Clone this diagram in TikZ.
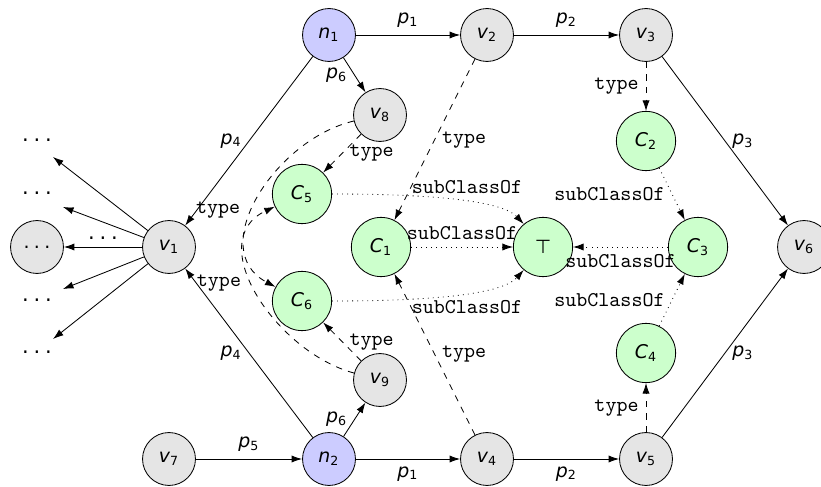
\documentclass[tikz,border=0pt]{standalone}
\usepackage{fontspec}
\setmainfont{DejaVu Sans}
\usetikzlibrary{arrows.meta}
\newcommand{\iv}[2]{\textit{#1}\textsubscript{#2}}
\newcommand{\dts}{.\hspace{0.23em}.\hspace{0.23em}.}
\begin{document}
\begin{tikzpicture}[x=0.476pt,y=0.476pt,
  base/.style={circle,draw,inner sep=0pt,font=\small},
  inst/.style={base,minimum size=25.2pt,fill=gray!20},
  nn/.style={inst,fill=blue!20},
  cls/.style={base,minimum size=28.2pt,fill=green!20},
  rel/.style={-{Latex[length=5pt,width=3.4pt]}},
  typ/.style={rel,dashed},
  sub/.style={rel,dotted},
  pl/.style={font=\small},
  tl/.style={font=\ttfamily},
  dl/.style={font=\normalsize}]
\useasboundingbox (0,0) rectangle (821,486);
% nodes
\node[nn] (n1) at (329,451) {\iv{n}{1}};
\node[inst] (v2) at (487,451) {\iv{v}{2}};
\node[inst] (v3) at (646,451) {\iv{v}{3}};
\node[inst] (v8) at (380,371) {\iv{v}{8}};
\node[cls] (C5) at (302,292) {\iv{C}{5}};
\node[cls] (C2) at (646,345) {\iv{C}{2}};
\node[inst] (v1) at (169,239) {\iv{v}{1}};
\node[inst] (dm) at (37,239) {\dts};
\node[cls] (C1) at (381,239) {\iv{C}{1}};
\node[cls] (T) at (543,239) {⊤};
\node[cls] (C3) at (698,239) {\iv{C}{3}};
\node[inst] (v6) at (804,239) {\iv{v}{6}};
\node[cls] (C6) at (302,185) {\iv{C}{6}};
\node[inst] (v9) at (380,106) {\iv{v}{9}};
\node[cls] (C4) at (646,133) {\iv{C}{4}};
\node[inst] (v7) at (169,27) {\iv{v}{7}};
\node[nn] (n2) at (329,27) {\iv{n}{2}};
\node[inst] (v4) at (487,27) {\iv{v}{4}};
\node[inst] (v5) at (646,27) {\iv{v}{5}};
% dots on the left
\node[dl] (t1) at (37,346) {\dts};
\node[dl] (t2) at (37,293) {\dts};
\node[dl] (t3) at (37,186) {\dts};
\node[dl] (t4) at (37,134) {\dts};
\coordinate (e1) at (53,329);
\coordinate (e2) at (63,279);
\coordinate (e3) at (63,197);
\coordinate (e4) at (53,147);
\draw[rel] (v1) -- (e1);
\draw[rel] (v1) -- (e2);
\draw[rel] (v1) -- (e3);
\draw[rel] (v1) -- (e4);
\draw[rel] (v1) -- node[dl,above] (lm) {\dts} (dm);
% property edges
\draw[rel] (n1) -- node[pl,above] (l1) {\iv{p}{1}} (v2);
\draw[rel] (v2) -- node[pl,above] (l2) {\iv{p}{2}} (v3);
\draw[rel] (v3) -- node[pl,right] (l3) {\iv{p}{3}} (v6);
\draw[rel] (n1) -- node[pl,left] (l4) {\iv{p}{4}} (v1);
\draw[rel] (n2) -- node[pl,left] (l5) {\iv{p}{4}} (v1);
\draw[rel] (n1) -- node[pl,left] (l6) {\iv{p}{6}} (v8);
\draw[rel] (n2) -- node[pl,left] (l7) {\iv{p}{6}} (v9);
\draw[rel] (v7) -- node[pl,above] (l8) {\iv{p}{5}} (n2);
\draw[rel] (n2) -- node[pl,below] (l9) {\iv{p}{1}} (v4);
\draw[rel] (v4) -- node[pl,below] (l10) {\iv{p}{2}} (v5);
\draw[rel] (v5) -- node[pl,right] (l11) {\iv{p}{3}} (v6);
% type edges
\draw[typ] (v2) -- node[tl,right] (k1) {type} (C1);
\draw[typ] (v4) -- node[tl,right] (k2) {type} (C1);
\draw[typ] (v3) -- node[tl,left] (k3) {type} (C2);
\draw[typ] (v5) -- node[tl,left] (k4) {type} (C4);
\draw[typ] (v8) -- node[tl,right] (k5) {type} (C5);
\draw[typ] (v9) -- node[tl,right] (k6) {type} (C6);
\draw[typ] (v8) to[out=193,in=152,looseness=1.12] node[tl,pos=0.97,left=10pt] (k7) {type} (C6);
\draw[typ] (v9) to[out=165,in=205,looseness=1.12] node[tl,pos=0.97,left=10pt] (k8) {type} (C5);
% subClassOf edges
\draw[sub] (C5.east) .. controls (455,292) and (505,282) .. node[tl,above] (s1) {subClassOf} (T.130);
\draw[sub] (C1) -- node[tl,above] (s2) {subClassOf} (T);
\draw[sub] (C6.east) .. controls (455,185) and (505,195) .. node[tl,below] (s3) {subClassOf} (T.230);
\draw[sub] (C3) -- node[tl,below] (s4) {subClassOf} (T);
\draw[sub] (C2) -- node[tl,left] (s5) {subClassOf} (C3);
\draw[sub] (C4) -- node[tl,left] (s6) {subClassOf} (C3);
\end{tikzpicture}
\end{document}
